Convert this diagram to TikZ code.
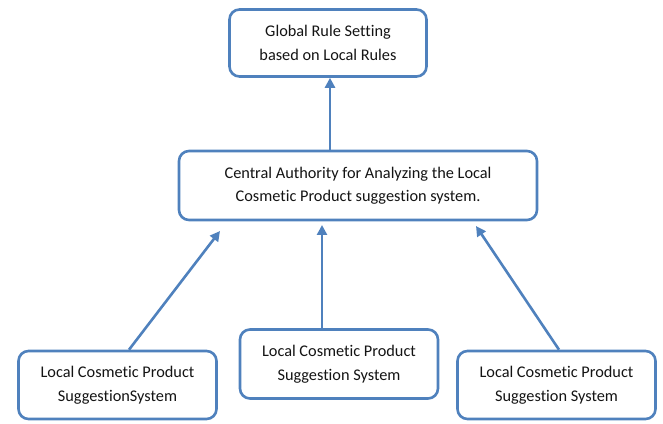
\documentclass[tikz,border=0pt]{standalone}
\usepackage{fontspec}
\setmainfont[Ligatures=NoCommon]{Carlito}
\usetikzlibrary{arrows.meta}
\definecolor{boxblue}{HTML}{4F81BD}
\definecolor{textgray}{HTML}{141414}
\begin{document}
\begin{tikzpicture}[x=1pt,y=1pt,
  box/.style={draw=boxblue, line width=2.6pt, rounded corners=10pt, fill=white,
    align=center, text=textgray, font=\fontsize{16.3}{23.5}\selectfont, inner sep=0pt},
  arr/.style={draw=boxblue, line width=2.6pt, -{Triangle[length=10pt,width=10pt]}}]
\useasboundingbox (0,0) rectangle (663,423);
% boxes
\node[box, minimum width=197pt, minimum height=67pt] (top) at (328,380)
  {Global Rule Setting\\based on Local Rules};
\node[box, minimum width=358pt, minimum height=69pt] (mid) at (358,237.5)
  {Central Authority for Analyzing the Local\\Cosmetic Product suggestion system.};
\node[box, minimum width=198pt, minimum height=68pt] (bl) at (117.5,38)
  {Local Cosmetic Product\\SuggestionSystem};
\node[box, minimum width=198pt, minimum height=69pt] (bc) at (339,59)
  {Local Cosmetic Product\\Suggestion System};
\node[box, minimum width=198pt, minimum height=68pt] (br) at (556.5,38)
  {Local Cosmetic Product\\Suggestion System};
% arrow tips below the central box
\coordinate (tl) at (220,192);
\coordinate (tc) at (322,198);
\coordinate (tr) at (476,197);
% connectors
\draw[arr] ([xshift=2pt]top.south |- mid.north) -- ([xshift=2pt]top.south);
\draw[arr] ([xshift=11.5pt]bl.north) -- (tl);
\draw[arr] (bc.north -| tc) -- (tc);
\draw[arr] ([xshift=2.5pt]br.north) -- (tr);
\end{tikzpicture}
\end{document}
